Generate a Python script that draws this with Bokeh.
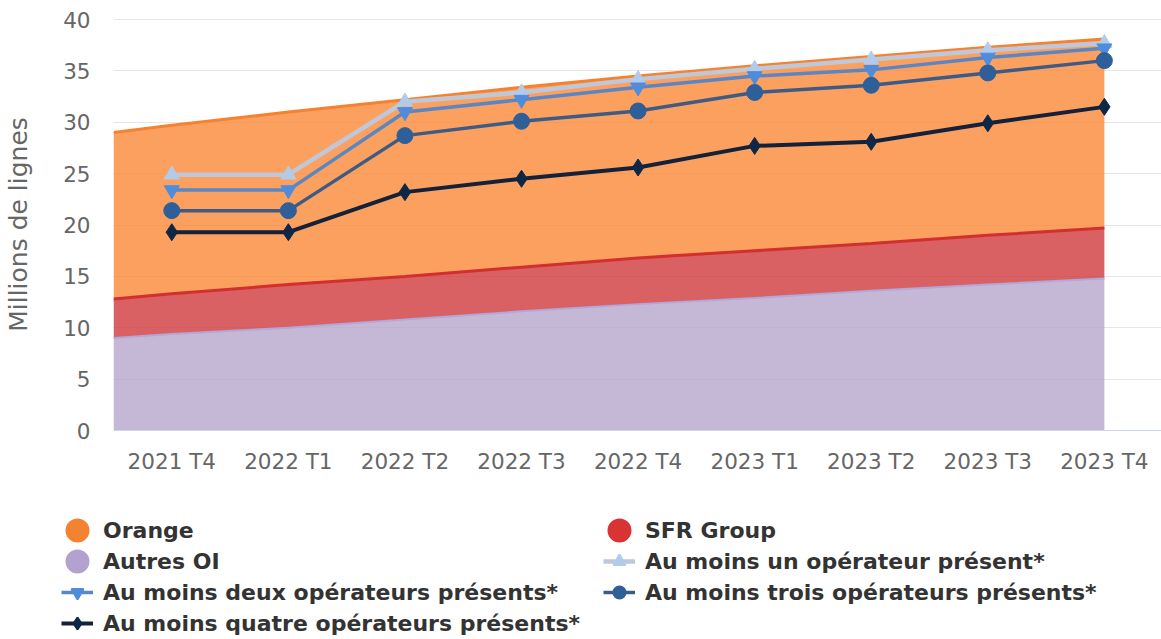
from bokeh.plotting import figure
from bokeh.models import Range1d, FixedTicker, Legend, LegendItem, ColumnDataSource
from bokeh.embed import file_html
from bokeh.resources import INLINE

# ---------------- data ----------------
quarters = ["2021 T4", "2022 T1", "2022 T2", "2022 T3", "2022 T4",
            "2023 T1", "2023 T2", "2023 T3", "2023 T4"]
y_ticks = [0, 5, 10, 15, 20, 25, 30, 35, 40]

# stacked areas (millions de lignes), one value per quarter
autres_oi = [9.4, 10.0, 10.8, 11.6, 12.3, 12.9, 13.6, 14.2, 14.8]
sfr_group = [3.9, 4.2, 4.2, 4.3, 4.5, 4.6, 4.6, 4.8, 4.9]
orange = [16.4, 16.8, 17.2, 17.5, 17.7, 18.0, 18.2, 18.3, 18.4]
# values where the areas meet the left border of the plot
edge_autres_oi = 9.0
edge_sfr_group = 3.8
edge_orange = 16.2

# line series
au_moins_un = [24.9, 24.9, 32.0, 32.9, 34.2, 35.2, 36.1, 37.0, 37.7]
au_moins_deux = [23.4, 23.4, 31.0, 32.2, 33.4, 34.5, 35.1, 36.3, 37.2]
au_moins_trois = [21.4, 21.4, 28.7, 30.1, 31.1, 32.9, 33.6, 34.8, 36.0]
au_moins_quatre = [19.3, 19.3, 23.2, 24.5, 25.6, 27.7, 28.1, 29.9, 31.5]

FONT = "DejaVu Sans"

C_ORANGE, C_SFR, C_AUTRES = "#f58231", "#d93334", "#b3a2cf"
C_UN_L, C_UN_M = "#bec8d8", "#b3cbea"
C_DEUX_L, C_DEUX_M = "#5b86c4", "#4f8cdb"
C_TROIS_L, C_TROIS_M = "#3d5b85", "#2f5f99"
C_QUATRE_L, C_QUATRE_M = "#14213a", "#0f2747"

p = figure(width=1161, height=490, output_backend="svg", toolbar_location=None,
           x_range=Range1d(-0.5, 8.49), y_range=Range1d(0, 40.1),
           min_border_left=113, min_border_right=0, min_border_top=18,
           min_border_bottom=60)
p.outline_line_color = None
p.background_fill_color = "white"
p.border_fill_color = "white"

p.xgrid.visible = False
p.ygrid.grid_line_color = "#e6e6e6"
p.ygrid.grid_line_width = 1

idx = list(range(len(quarters)))
p.xaxis.ticker = FixedTicker(ticks=idx)
p.xaxis.major_label_overrides = {i: q for i, q in enumerate(quarters)}
p.yaxis.ticker = FixedTicker(ticks=y_ticks)

for ax in (p.xaxis[0], p.yaxis[0]):
    ax.major_label_text_font = FONT
    ax.major_label_text_font_size = "21.5px"
    ax.major_label_text_color = "#666666"
    ax.major_tick_line_color = None
    ax.minor_tick_line_color = None
    ax.major_tick_in = 0
    ax.major_tick_out = 0
p.xaxis.axis_line_color = "#ccd6eb"
p.xaxis.axis_line_width = 1
p.xaxis.major_label_standoff = 18
p.yaxis.axis_line_color = None
p.yaxis.major_label_standoff = 23
p.yaxis.axis_label = "Millions de lignes"
p.yaxis.axis_label_text_font = FONT
p.yaxis.axis_label_text_font_size = "25px"
p.yaxis.axis_label_text_font_style = "normal"
p.yaxis.axis_label_text_color = "#666666"
p.yaxis.axis_label_standoff = 27

# ---------------- stacked areas ----------------
area_x = [-0.5] + idx
src = ColumnDataSource(dict(
    x=area_x,
    autres=[edge_autres_oi] + autres_oi,
    sfr=[edge_sfr_group] + sfr_group,
    orange=[edge_orange] + orange,
))
stackers = ["autres", "sfr", "orange"]
p.varea_stack(stackers, x="x", source=src,
              fill_color=["#b6a6cc", "#cf393c", "#fb8837"], fill_alpha=0.8)
p.vline_stack(stackers, x="x", source=src,
              line_color=["#b3a6d9", "#d32f2f", C_ORANGE], line_width=[2, 3, 3])

# ---------------- line series ----------------
p.line(idx, au_moins_un, line_color=C_UN_L, line_width=4.5)
p.scatter(idx, au_moins_un, marker="triangle", size=15,
          fill_color=C_UN_M, line_color=C_UN_M)
p.line(idx, au_moins_deux, line_color=C_DEUX_L, line_width=3.5)
p.scatter(idx, au_moins_deux, marker="inverted_triangle", size=15,
          fill_color=C_DEUX_M, line_color=C_DEUX_M)
p.line(idx, au_moins_trois, line_color=C_TROIS_L, line_width=3.5)
p.scatter(idx, au_moins_trois, marker="circle", size=16,
          fill_color=C_TROIS_M, line_color=C_TROIS_M)
p.line(idx, au_moins_quatre, line_color=C_QUATRE_L, line_width=4)
p.scatter(idx, au_moins_quatre, marker="diamond", size=17,
          fill_color=C_QUATRE_M, line_color=C_QUATRE_M)

# ---------------- legend panel (separate figure below) ----------------
lp = figure(width=1161, height=149, output_backend="svg", toolbar_location=None,
            x_axis_type=None, y_axis_type=None, x_range=Range1d(0, 1), y_range=Range1d(0, 1),
            min_border=0)
lp.outline_line_color = None
lp.grid.visible = False
lp.background_fill_color = "white"
lp.border_fill_color = "white"

NAN = [float("nan")]  # legend-only glyphs: nothing drawn inside the panel

def leg_dot(color):
    return lp.scatter(x=NAN, y=NAN, marker="circle", size=12, fill_color=color,
                      line_color=color, line_width=12)

def leg_line(lcolor, marker, mcolor, lw):
    ln = lp.line(x=NAN, y=NAN, line_color=lcolor, line_width=lw)
    mk = lp.scatter(x=NAN, y=NAN, marker=marker, size=12, fill_color=mcolor,
                    line_color=mcolor, line_width=2)
    return [ln, mk]

def make_legend(items, loc):
    return Legend(items=items, location=loc, orientation="vertical",
                  glyph_width=32, glyph_height=30, label_height=30,
                  label_standoff=10, spacing=1, padding=0, margin=0,
                  border_line_color=None, background_fill_alpha=0,
                  label_text_font=FONT, label_text_font_size="22px",
                  label_text_font_style="bold", label_text_color="#333333")

leg1 = make_legend([
    LegendItem(label="Orange", renderers=[leg_dot(C_ORANGE)]),
    LegendItem(label="Autres OI", renderers=[leg_dot(C_AUTRES)]),
    LegendItem(label="Au moins deux opérateurs présents*",
               renderers=leg_line(C_DEUX_L, "inverted_triangle", C_DEUX_M, 3.5)),
    LegendItem(label="Au moins quatre opérateurs présents*",
               renderers=leg_line(C_QUATRE_L, "diamond", C_QUATRE_M, 4)),
], (61, 1))
leg2 = make_legend([
    LegendItem(label="SFR Group", renderers=[leg_dot(C_SFR)]),
    LegendItem(label="Au moins un opérateur présent*",
               renderers=leg_line(C_UN_L, "triangle", C_UN_M, 4.5)),
    LegendItem(label="Au moins trois opérateurs présents*",
               renderers=leg_line(C_TROIS_L, "circle", C_TROIS_M, 3.5)),
], (603, 32))
lp.add_layout(leg1)
lp.add_layout(leg2)

open("out.html", "w").write(file_html([p, lp], INLINE))
